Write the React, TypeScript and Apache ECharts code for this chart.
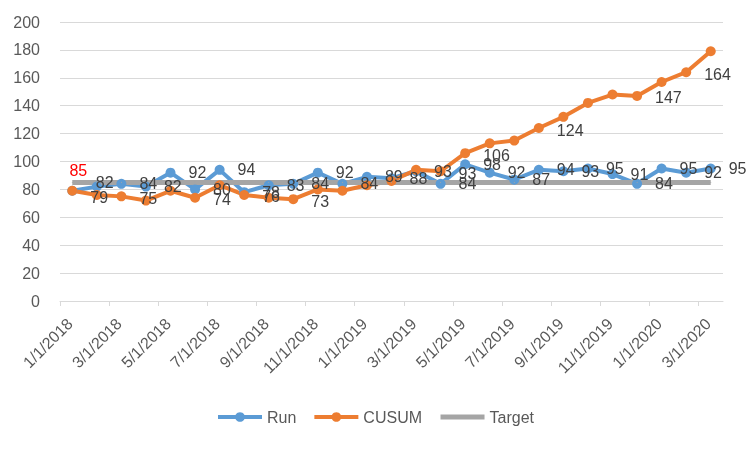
import React, { useEffect, useRef } from 'react';
import * as echarts from 'echarts';

// Monthly periods (27 points)
const months = [
  '1/1/2018', '2/1/2018', '3/1/2018', '4/1/2018', '5/1/2018', '6/1/2018', '7/1/2018', '8/1/2018', '9/1/2018',
  '10/1/2018', '11/1/2018', '12/1/2018', '1/1/2019', '2/1/2019', '3/1/2019', '4/1/2019', '5/1/2019', '6/1/2019',
  '7/1/2019', '8/1/2019', '9/1/2019', '10/1/2019', '11/1/2019', '12/1/2019', '1/1/2020', '2/1/2020', '3/1/2020',
];
const xTickLabels = [
  '1/1/2018', '3/1/2018', '5/1/2018', '7/1/2018', '9/1/2018', '11/1/2018', '1/1/2019',
  '3/1/2019', '5/1/2019', '7/1/2019', '9/1/2019', '11/1/2019', '1/1/2020', '3/1/2020',
];
const run = [79, 82, 84, 82, 92, 80, 94, 78, 83, 84, 92, 84, 89, 88, 93, 84, 98, 92, 87, 94, 93, 95, 91, 84, 95, 92, 95];
const cusum = [79, 76, 75, 72, 79, 74, 83, 76, 74, 73, 80, 79, 83, 86, 94, 93, 106, 113, 115, 124, 132, 142, 148, 147, 157, 164, 179];
const target = months.map(() => 85);
const cusumLabelIdx = [0, 2, 5, 7, 9, 15, 16, 19, 23, 25];

const FONT = 'Liberation Sans';
const LABEL_COLOR = '#404040';
const AXIS_COLOR = '#595959';

export default function App() {
  const ref = useRef<HTMLDivElement>(null);
  useEffect(() => {
    const chart = echarts.init(ref.current!, null, { renderer: 'svg' });
    const tickValues = xTickLabels.map((_, k) => k * 2);
    const LABEL_SHIFT = 0.4;
    const labelValues = tickValues.map((v) => v + LABEL_SHIFT);
    const fmt = (p: any) => String(p.value[1]);

    const runData = run.map((v, i) => {
      const item: any = { value: [i + 0.5, v], label: { show: i > 0 } };
      if (i === 1) item.label.offset = [-19, -4];
      return item;
    });
    const cusumData = cusum.map((v, i) => {
      const show = cusumLabelIdx.includes(i);
      return { value: [i + 0.5, v], label: { show, offset: [0, i === 0 ? 7 : 2] } };
    });
    const targetData = target.map((v, i) => ({
      value: [i + 0.5, v],
      label: { show: i === 0 },
    }));

    chart.setOption({
      animation: false,
      textStyle: { fontFamily: FONT },
      grid: { left: 60, right: 27, top: 22, height: 279, containLabel: false },
      legend: {
        bottom: 19,
        left: 'center',
        itemWidth: 44,
        itemHeight: 12,
        itemGap: 16,
        textStyle: { fontSize: 16, color: AXIS_COLOR, fontFamily: FONT },
        data: [
          { name: 'Run', lineStyle: { width: 4 } },
          { name: 'CUSUM', lineStyle: { width: 4 } },
          { name: 'Target', lineStyle: { width: 5 }, itemStyle: { opacity: 0 } },
        ],
      },
      xAxis: {
        type: 'value',
        min: 0,
        max: months.length,
        axisLine: { show: true, onZero: false, lineStyle: { color: '#D9D9D9', width: 1 } },
        axisTick: { show: true, customValues: tickValues, length: 5, lineStyle: { color: '#D9D9D9' } },
        axisLabel: {
          customValues: labelValues,
          rotate: 45,
          margin: 20,
          fontSize: 16,
          color: AXIS_COLOR,
          fontFamily: FONT,
          formatter: (v: number) => xTickLabels[Math.round((v - LABEL_SHIFT) / 2)] ?? '',
        },
        splitLine: { show: false },
      },
      yAxis: {
        type: 'value',
        min: 0,
        max: 200,
        interval: 20,
        axisLine: { show: false },
        axisTick: { show: false },
        axisLabel: { fontSize: 16, color: AXIS_COLOR, margin: 20, fontFamily: FONT },
        splitLine: { lineStyle: { color: '#D9D9D9', width: 1 } },
      },
      series: [
        {
          name: 'Run',
          type: 'line',
          data: runData,
          symbol: 'circle',
          symbolSize: 10,
          color: '#5B9BD5',
          lineStyle: { width: 4, color: '#5B9BD5' },
          itemStyle: { color: '#5B9BD5' },
          label: { position: 'right', distance: 13, color: LABEL_COLOR, fontSize: 16, fontFamily: FONT, formatter: fmt },
        },
        {
          name: 'CUSUM',
          type: 'line',
          data: cusumData,
          symbol: 'circle',
          symbolSize: 10,
          color: '#ED7D31',
          lineStyle: { width: 4, color: '#ED7D31' },
          itemStyle: { color: '#ED7D31' },
          label: { position: 'right', distance: 13, color: LABEL_COLOR, fontSize: 16, fontFamily: FONT, formatter: fmt },
        },
        {
          name: 'Target',
          type: 'line',
          data: targetData,
          symbol: 'circle',
          symbolSize: 1,
          color: '#A5A5A5',
          lineStyle: { width: 5, color: '#A5A5A5' },
          itemStyle: { color: '#A5A5A5' },
          label: { position: 'top', distance: 3, offset: [6, 0], color: '#FF0000', fontSize: 16, fontFamily: FONT, formatter: fmt },
        },
      ],
    });
    return () => chart.dispose();
  }, []);
  return <div ref={ref} style={{ position: 'fixed', left: 0, top: 0, width: 750, height: 449 }} />;
}
